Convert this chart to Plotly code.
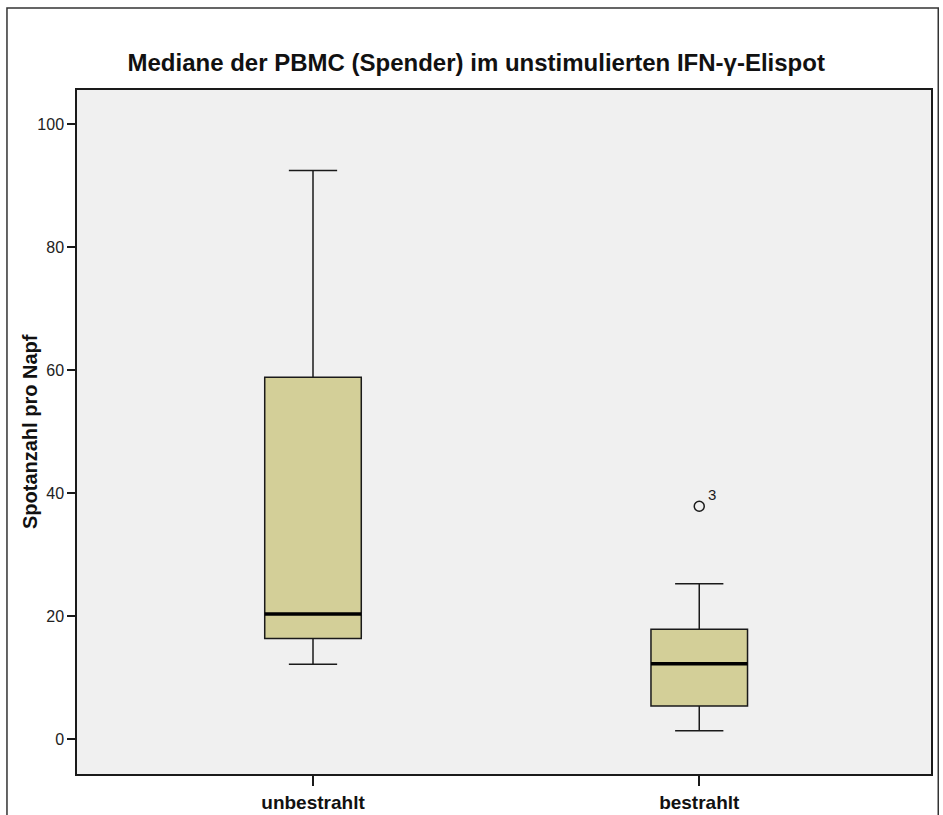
import plotly.graph_objects as go

# Gruppen und Kennwerte der Boxplots (Spotanzahl pro Napf)
groups = ["unbestrahlt", "bestrahlt"]
lower_whisker = [12.2, 1.4]
q1 = [16.4, 5.4]
median = [20.4, 12.3]
q3 = [58.9, 17.9]
upper_whisker = [92.5, 25.3]

# Ausreißer (Fallnummer)
outlier_group = [1]
outlier_value = [37.9]
outlier_case = ["3"]

y_ticks = [0, 20, 40, 60, 80, 100]

box_fill = "#D3CF98"
font_family = "Liberation Sans, Arial, sans-serif"
box_width = 0.25
xs = list(range(len(groups)))

fig = go.Figure()

fig.add_trace(go.Box(
    x=xs,
    q1=q1, median=median, q3=q3,
    lowerfence=lower_whisker, upperfence=upper_whisker,
    width=box_width,
    whiskerwidth=0.5,
    fillcolor=box_fill,
    line=dict(color="#1a1a1a", width=1.5),
    boxpoints=False,
    hoverinfo="skip",
    showlegend=False,
))

# kräftige Medianlinie
for i, m in zip(xs, median):
    fig.add_trace(go.Scatter(
        x=[i - box_width / 2, i + box_width / 2], y=[m, m],
        mode="lines", line=dict(color="#000000", width=3.5),
        hoverinfo="skip", showlegend=False,
    ))

# Ausreißer als offener Kreis
fig.add_trace(go.Scatter(
    x=outlier_group, y=outlier_value, mode="markers",
    marker=dict(symbol="circle-open", size=10, color="#1a1a1a",
                line=dict(width=1.5, color="#1a1a1a")),
    hoverinfo="skip", showlegend=False,
))
for gx, v, lab in zip(outlier_group, outlier_value, outlier_case):
    fig.add_annotation(x=gx, y=v, text=lab, showarrow=False,
                       xshift=13, yshift=12,
                       font=dict(family=font_family, size=15, color="#1a1a1a"))

# Achsentitel der y-Achse
fig.add_annotation(xref="paper", yref="paper", x=-0.055, y=0.5,
                   xanchor="center", yanchor="middle", textangle=-90,
                   text="<b>Spotanzahl pro Napf</b>", showarrow=False,
                   font=dict(family=font_family, size=20, color="#111111"))

# äußerer Rahmen um die Grafik
fig.add_shape(type="rect", xref="paper", yref="paper",
              x0=-0.082, x1=1.0085, y0=-0.2, y1=1.12,
              line=dict(color="#333333", width=1.5), fillcolor="rgba(0,0,0,0)",
              layer="below")

fig.update_layout(
    width=943, height=815,
    margin=dict(l=77, r=12, t=90, b=41),
    paper_bgcolor="#FFFFFF",
    plot_bgcolor="#F0F0F0",
    font=dict(family=font_family, color="#1a1a1a"),
    title=dict(text="<b>Mediane der PBMC (Spender) im unstimulierten IFN-γ-Elispot</b>",
               x=0.505, xref="container", xanchor="center", y=1 - 63 / 815, yanchor="middle",
               font=dict(family=font_family, size=24, color="#111111")),
    xaxis=dict(
        range=[-0.611, 1.6],
        tickmode="array", tickvals=xs,
        ticktext=[f"<b>{g}</b>" for g in groups],
        ticks="outside", ticklen=10, tickwidth=1.5, tickcolor="#1a1a1a",
        showline=True, linecolor="#1a1a1a", linewidth=1.5, mirror=True,
        showgrid=False, zeroline=False, automargin=False,
        tickfont=dict(family=font_family, size=19, color="#111111"),
    ),
    yaxis=dict(
        range=[-5.64, 105.6],
        tickmode="array", tickvals=y_ticks,
        ticks="outside", ticklen=8, tickwidth=1.5, tickcolor="#1a1a1a",
        showline=True, linecolor="#1a1a1a", linewidth=1.5, mirror=True,
        showgrid=False, zeroline=False, automargin=False,
        tickfont=dict(family=font_family, size=16, color="#222222"),
    ),
)

fig.write_html("out.html")
